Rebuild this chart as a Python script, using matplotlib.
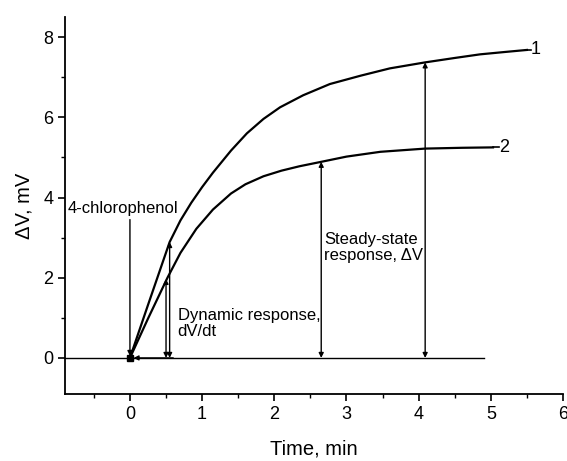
import matplotlib
matplotlib.use("Agg")
import matplotlib.pyplot as plt
from matplotlib.ticker import MultipleLocator

plt.rcParams['font.family'] = ['Liberation Sans', 'DejaVu Sans']

# Data
t1 = [0, 0.25, 0.55, 0.7, 0.85, 1.0, 1.15, 1.4, 1.62, 1.85, 2.08, 2.4, 2.77,
      3.2, 3.6, 4.09, 4.5, 4.85, 5.2, 5.5]
v1 = [0, 1.32, 2.89, 3.43, 3.87, 4.26, 4.62, 5.17, 5.6, 5.96, 6.25, 6.55, 6.83,
      7.04, 7.22, 7.37, 7.48, 7.57, 7.63, 7.68]
t2 = [0, 0.25, 0.52, 0.7, 0.92, 1.15, 1.4, 1.6, 1.85, 2.1, 2.35, 2.65, 3.0,
      3.47, 4.09, 4.6, 5.03]
v2 = [0, 0.98, 2.0, 2.62, 3.22, 3.7, 4.1, 4.33, 4.53, 4.67, 4.78, 4.89, 5.02,
      5.14, 5.22, 5.24, 5.25]
curve_labels = ["1", "2"]
baseline_t = [-0.9, 4.9]
baseline_v = [0, 0]
dyn_t = [0.5, 0.55]        # dynamic response arrows (curve 2, curve 1)
dyn_v = [1.97, 2.89]
ss_t = [2.65, 4.09]        # steady-state arrows (curve 2, curve 1)
ss_v = [4.89, 7.37]

fig = plt.figure(figsize=(5.67, 4.61), dpi=100)
ax = fig.add_axes([0.1146, 0.1453, 0.8784, 0.8177])

ax.plot(t1, v1, color='black', lw=1.6)
ax.plot(t2, v2, color='black', lw=1.6)
ax.plot(baseline_t, baseline_v, color='black', lw=1.0)
ax.plot([0], [0], marker='s', color='black', ms=5)

ax.plot([t1[-1], t1[-1] + 0.05], [v1[-1], v1[-1]], color='black', lw=1.2)
ax.plot([t2[-1], t2[-1] + 0.08], [v2[-1], v2[-1]], color='black', lw=1.2)
ax.text(t1[-1] + 0.05, v1[-1], curve_labels[0], fontsize=13, va='center', ha='left')
ax.text(t2[-1] + 0.08, v2[-1], curve_labels[1], fontsize=13, va='center', ha='left')

arrow_kw = dict(arrowstyle='<|-|>', color='black', lw=1.0, mutation_scale=7,
                shrinkA=0, shrinkB=0)
for tt, vv in zip(dyn_t, dyn_v):
    ax.annotate('', xy=(tt, vv), xytext=(tt, 0), arrowprops=arrow_kw)
for tt, vv in zip(ss_t, ss_v):
    ax.annotate('', xy=(tt, vv), xytext=(tt, 0), arrowprops=arrow_kw)

# horizontal arrow along baseline
ax.annotate('', xy=(0.05, 0), xytext=(0.6, 0),
            arrowprops=dict(arrowstyle='-|>', color='black', lw=1.0,
                            mutation_scale=7, shrinkA=0, shrinkB=0))

# 4-chlorophenol injection arrow
ax.annotate('', xy=(0, 0.05), xytext=(0, 3.45),
            arrowprops=dict(arrowstyle='-|>', color='black', lw=1.0,
                            mutation_scale=7, shrinkA=0, shrinkB=0))
ax.text(-0.86, 3.72, '4-chlorophenol', fontsize=12, va='center', ha='left')

ax.text(0.66, 0.86, 'Dynamic response,\ndV/dt', fontsize=12, va='center',
        ha='left', linespacing=1.05)
ax.text(2.69, 2.75, 'Steady-state\nresponse, \u0394V', fontsize=12, va='center',
        ha='left', linespacing=1.05)

ax.set_xlim(-0.9, 6)
ax.set_ylim(-0.9, 8.5)
ax.xaxis.set_minor_locator(MultipleLocator(0.5))
ax.yaxis.set_minor_locator(MultipleLocator(1))
ax.set_xticks([0, 1, 2, 3, 4, 5, 6])
ax.set_yticks([0, 2, 4, 6, 8])

for s in ['top', 'right']:
    ax.spines[s].set_visible(False)
for s in ['left', 'bottom']:
    ax.spines[s].set_linewidth(1.3)

ax.tick_params(which='major', direction='out', length=5, width=1.2, labelsize=13)
ax.tick_params(which='minor', direction='out', length=3, width=1.0)

ax.set_xlabel('Time, min', fontsize=14.5, labelpad=12)
ax.set_ylabel('\u0394V, mV', fontsize=14.5, labelpad=7)

fig.savefig('out.png', dpi=100)
